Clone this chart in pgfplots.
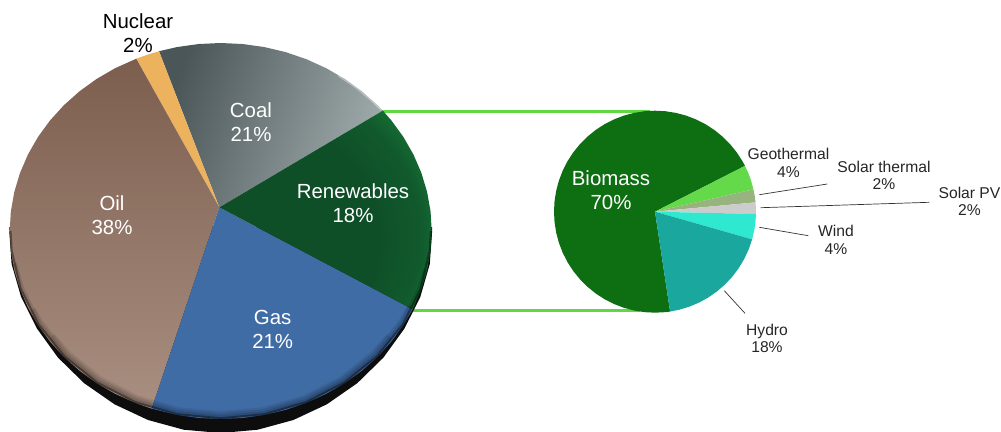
\documentclass[border=0pt]{standalone}
\usepackage{fontspec}
\setmainfont{Liberation Sans}
\usepackage{pgfplots}
\pgfplotsset{compat=1.18}

\definecolor{linkgreen}{HTML}{5FD843}
\definecolor{coalA}{HTML}{4B5659}
\definecolor{coalB}{HTML}{A0ABAC}
\definecolor{nuclearc}{HTML}{ECB25E}
\definecolor{oilA}{HTML}{7C5E4E}
\definecolor{oilB}{HTML}{A98F81}
\definecolor{gasc}{HTML}{406CA6}
\definecolor{renA}{HTML}{0F4F28}
\definecolor{renB}{HTML}{115A2D}
\definecolor{renC}{HTML}{187A36}
\definecolor{renD}{HTML}{2BA84C}
\definecolor{biomassc}{HTML}{0E6E12}
\definecolor{geoc}{HTML}{64DA4A}
\definecolor{solarthc}{HTML}{98B47E}
\definecolor{solarpvc}{HTML}{CCCCCC}
\definecolor{windc}{HTML}{2EE8D0}
\definecolor{hydroc}{HTML}{1AA89E}
\definecolor{leader}{HTML}{333333}

% centre sits near the apex of the Renewables slice, so the glow follows its rim
\pgfdeclareradialshading{renrim}{\pgfpoint{-25bp}{-10bp}}{
  color(0bp)=(renA); color(30bp)=(renA); color(38bp)=(renB);
  color(44.5bp)=(renC); color(50bp)=(renD); color(100bp)=(renD)}

\pgfplotsset{
  layer/.style={
    hide axis, scale only axis,
    width=1001bp, height=432bp,
    at={(0,0)}, anchor=south west,
  },
  % pixel coordinates of the picture
  pixels/.style={layer, xmin=0, xmax=1001, ymin=0, ymax=432, y dir=reverse},
}
\newcommand{\bigtxt}{\fontsize{20.5}{24}\selectfont}
\newcommand{\smalltxt}{\fontsize{15.7}{17.6}\selectfont}

\begin{document}
\begin{tikzpicture}
\path[use as bounding box] (0,0) rectangle (1001bp,432bp);

% connector lines, behind both pies
\begin{axis}[pixels]
\addplot[linkgreen, line width=3bp] coordinates {(381,111.5) (650,111.5)};
\addplot[linkgreen, line width=3bp] coordinates {(411,310) (640,310)};
\end{axis}

% large pie: unit circle is the outline ellipse, apex off centre
\begin{axis}[layer, xmin=-1.04597, xmax=3.6981, ymin=-1.06915, ymax=1.22872]
% black rim and shadow
\addplot[fill=black!95, draw=none] coordinates {
  (1.002,0.02) (1.002,0) (0.991,-0.1758) (0.946,-0.3507) (0.871,-0.5186) (0.771,-0.6736)
  (0.647,-0.8097) (0.503,-0.9219) (0.344,-1.0055) (0.175,-1.0571) (0,-1.0745)
  (-0.175,-1.0571) (-0.344,-1.0055) (-0.503,-0.9219) (-0.647,-0.8097) (-0.771,-0.6736)
  (-0.871,-0.5186) (-0.946,-0.3507) (-0.991,-0.1758) (-1.002,0) (-1.002,0.02)
} --cycle;
% Coal
\addplot[data cs=polar, draw=none, shade, left color=coalA, right color=coalB, shading angle=70] coordinates {
  (93,0.126) (107,1) (102,1) (96,1) (90,1) (84,1) (78,1) (72,1) (66,1) (60,1) (54,1) (48,1) (42,1) (39.8,1)
} --cycle;
% Nuclear
\addplot[data cs=polar, draw=none, fill=nuclearc] coordinates {
  (93,0.126) (113.6,1) (110,1) (107,1)
} --cycle;
% Oil
\addplot[data cs=polar, draw=none, shade, top color=oilA, bottom color=oilB] coordinates {
  (93,0.126) (250.9,1) (246,1) (240,1) (234,1) (228,1) (222,1) (216,1) (210,1) (204,1) (198,1)
  (192,1) (186,1) (180,1) (174,1) (168,1) (162,1) (156,1) (150,1) (144,1) (138,1) (132,1)
  (126,1) (120,1) (113.6,1)
} --cycle;
% Gas
\addplot[data cs=polar, draw=none, fill=gasc] coordinates {
  (93,0.126) (335.4,1) (330,1) (324,1) (318,1) (312,1) (306,1) (300,1) (294,1) (288,1) (282,1)
  (276,1) (270,1) (264,1) (258,1) (250.9,1)
} --cycle;
% Renewables
\addplot[data cs=polar, draw=none, shading=renrim] coordinates {
  (93,0.126) (39.8,1) (36,1) (30,1) (24,1) (18,1) (12,1) (6,1) (0,1) (-6,1) (-12,1) (-18,1) (-24.6,1)
} --cycle;
% blurred darker edge
\addplot[data cs=polar, black, opacity=0.08, line width=8bp] coordinates {
  (215,0.979) (222,0.979) (234,0.979) (246,0.979) (258,0.979) (270,0.979) (282,0.979)
  (294,0.979) (306,0.979) (318,0.979) (325,0.979)
};
\addplot[data cs=polar, black, opacity=0.10, line width=6bp] coordinates {
  (205,0.984) (210,0.984) (222,0.984) (234,0.984) (246,0.984) (258,0.984) (270,0.984) (282,0.984)
  (294,0.984) (306,0.984) (318,0.984) (330,0.984) (336,0.984)
};
\addplot[data cs=polar, black, opacity=0.12, line width=4bp] coordinates {
  (190,0.99) (198,0.99) (210,0.99) (222,0.99) (234,0.99) (246,0.99) (258,0.99) (270,0.99) (282,0.99)
  (294,0.99) (306,0.99) (318,0.99) (330,0.99) (342,0.99) (348,0.99)
};
\addplot[data cs=polar, black, opacity=0.40, line width=2bp] coordinates {
  (180,0.996) (186,0.996) (198,0.996) (210,0.996) (222,0.996) (234,0.996) (246,0.996) (258,0.996) (270,0.996) (282,0.996)
  (294,0.996) (306,0.996) (318,0.996) (330,0.996) (342,0.996) (354,0.996) (360,0.996)
};
% light edge of Coal
\addplot[data cs=polar, white, opacity=0.35, line width=1.5bp] coordinates {
  (56,0.996) (50,0.996) (44,0.996) (40.2,0.996)
};
\end{axis}

% small pie, radius in pixels
\begin{axis}[layer, xmin=-655, xmax=346, ymin=-220.3, ymax=211.7]
% Biomass
\addplot[data cs=polar, draw=none, fill=biomassc] coordinates {
  (0,0) (27,101) (30,101) (36,101) (42,101) (48,101) (54,101) (60,101) (66,101) (72,101) (78,101)
  (84,101) (90,101) (96,101) (102,101) (108,101) (114,101) (120,101) (126,101) (132,101) (138,101)
  (144,101) (150,101) (156,101) (162,101) (168,101) (174,101) (180,101) (186,101) (192,101)
  (198,101) (204,101) (210,101) (216,101) (222,101) (228,101) (234,101) (240,101) (246,101)
  (252,101) (258,101) (264,101) (270,101) (276,101) (278.6,101)
} --cycle;
% Geothermal
\addplot[data cs=polar, draw=none, fill=geoc] coordinates {
  (0,0) (12.8,101) (18,101) (22,101) (27,101)
} --cycle;
% Solar thermal
\addplot[data cs=polar, draw=none, fill=solarthc] coordinates {
  (0,0) (5.3,101) (9,101) (12.8,101)
} --cycle;
% Solar PV
\addplot[data cs=polar, draw=none, fill=solarpvc] coordinates {
  (0,0) (-1.3,101) (2,101) (5.3,101)
} --cycle;
% Wind
\addplot[data cs=polar, draw=none, fill=windc] coordinates {
  (0,0) (-15.9,101) (-10,101) (-5,101) (-1.3,101)
} --cycle;
% Hydro
\addplot[data cs=polar, draw=none, fill=hydroc] coordinates {
  (0,0) (278.6,101) (284,101) (290,101) (296,101) (302,101) (308,101) (314,101) (320,101)
  (326,101) (332,101) (338,101) (344.1,101)
} --cycle;
\end{axis}

% leaders and labels
\begin{axis}[pixels]
\addplot[leader, line width=0.7bp] coordinates {(759.3,194.7) (827.3,184)};
\addplot[leader, line width=0.7bp] coordinates {(760.7,207.7) (929.3,202.3)};
\addplot[leader, line width=0.7bp] coordinates {(759.3,227.3) (808.3,235.7)};
\addplot[leader, line width=0.7bp] coordinates {(724.3,290.7) (745,313.3)};

\node[align=center, font=\bigtxt, text=black] at (axis cs:138,33) {Nuclear\\2\%};
\node[align=center, font=\bigtxt, text=white] at (axis cs:251,122) {Coal\\21\%};
\node[align=center, font=\bigtxt, text=white] at (axis cs:353,203.5) {Renewables\\18\%};
\node[align=center, font=\bigtxt, text=white] at (axis cs:112,215.5) {Oil\\38\%};
\node[align=center, font=\bigtxt, text=white] at (axis cs:272.7,329) {Gas\\21\%};
\node[align=center, font=\bigtxt, text=white] at (axis cs:611,190) {Biomass\\70\%};
\node[align=center, font=\smalltxt, text=black!85] at (axis cs:788.5,163) {Geothermal\\4\%};
\node[align=center, font=\smalltxt, text=black!85] at (axis cs:884,175.5) {Solar thermal\\2\%};
\node[align=center, font=\smalltxt, text=black!85] at (axis cs:969.5,201.5) {Solar PV\\2\%};
\node[align=center, font=\smalltxt, text=black!85] at (axis cs:836,240) {Wind\\4\%};
\node[align=center, font=\smalltxt, text=black!85] at (axis cs:767,338.5) {Hydro\\18\%};
\end{axis}
\end{tikzpicture}
\end{document}
